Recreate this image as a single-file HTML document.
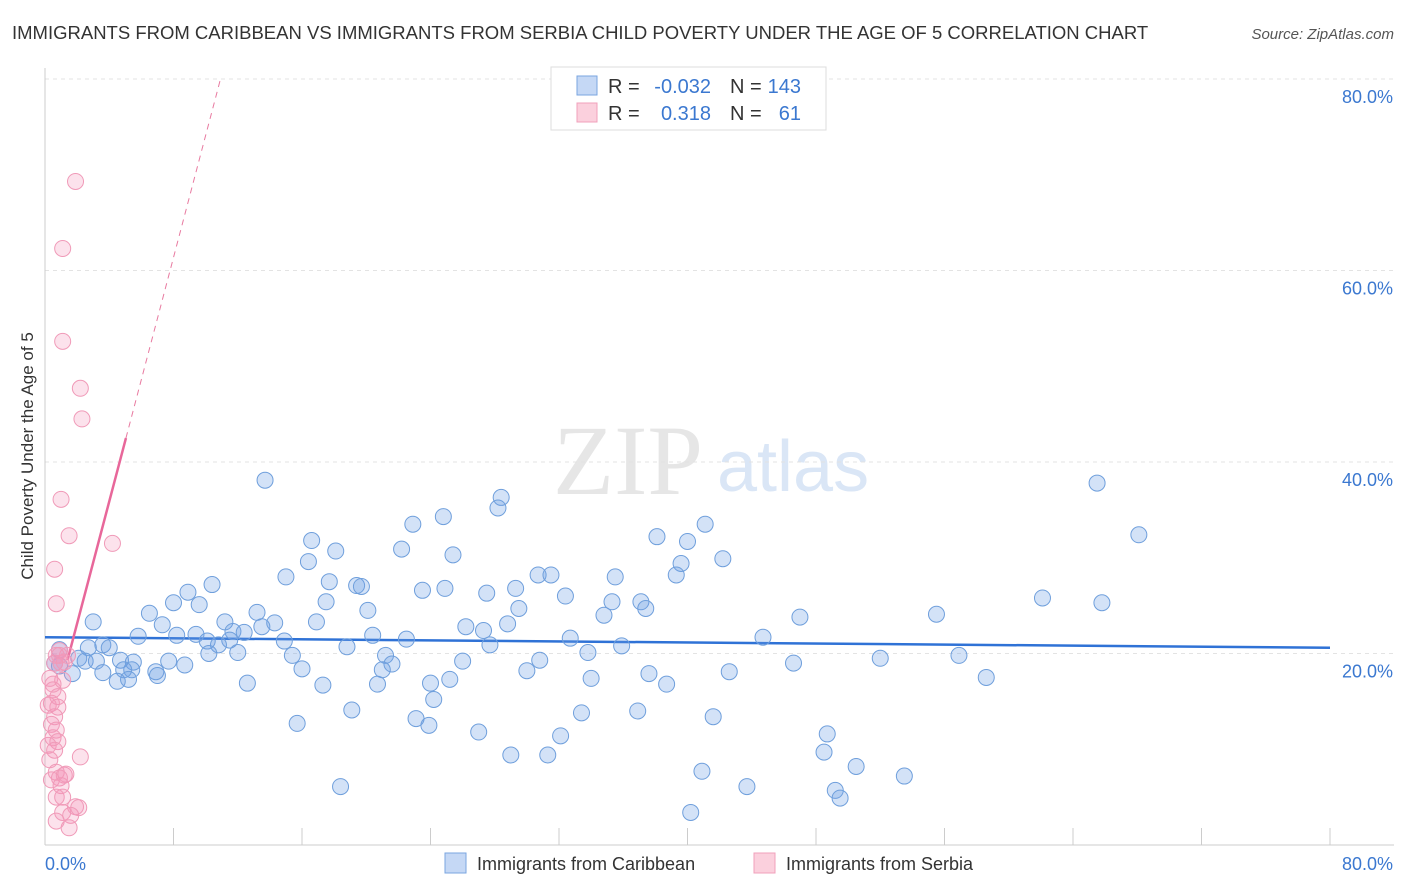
<!DOCTYPE html>
<html><head><meta charset="utf-8">
<style>
body{margin:0;background:#fff;font-family:"Liberation Sans",sans-serif;}
svg{display:block}
</style></head>
<body>
<svg id="chart" width="1406" height="892" xmlns="http://www.w3.org/2000/svg" font-family="Liberation Sans, sans-serif">
<text x="12" y="39" font-size="18.5" fill="#333">IMMIGRANTS FROM CARIBBEAN VS IMMIGRANTS FROM SERBIA CHILD POVERTY UNDER THE AGE OF 5 CORRELATION CHART</text>
<text x="1394" y="39" font-size="15" fill="#555" font-style="italic" text-anchor="end">Source: ZipAtlas.com</text>
<text transform="translate(33,456) rotate(-90)" font-size="17" fill="#333" text-anchor="middle">Child Poverty Under the Age of 5</text>
<g>
<text x="553" y="494" font-size="100" font-family="Liberation Serif, serif" fill="#e6e6e6">ZIP</text>
<text x="717" y="491" font-size="72" fill="#dae6f6">atlas</text>
</g>
<g id="grid"></g>
<g id="trends"></g>
<g id="points"></g>
<g>
<rect x="551" y="67" width="275" height="63" fill="#fff" stroke="#ddd"/>
<rect x="577" y="76" width="20" height="19" fill="#c5d8f5" stroke="#7aa6e0"/>
<rect x="577" y="103" width="20" height="19" fill="#fbd0dd" stroke="#f0a0bb"/>
<text x="608" y="93" font-size="20" fill="#333">R =</text>
<text x="711" y="93" font-size="20" fill="#3b78d0" text-anchor="end">-0.032</text>
<text x="730" y="93" font-size="20" fill="#333">N =</text>
<text x="801" y="93" font-size="20" fill="#3b78d0" text-anchor="end">143</text>
<text x="608" y="120" font-size="20" fill="#333">R =</text>
<text x="711" y="120" font-size="20" fill="#3b78d0" text-anchor="end">0.318</text>
<text x="730" y="120" font-size="20" fill="#333">N =</text>
<text x="801" y="120" font-size="20" fill="#3b78d0" text-anchor="end">61</text>
</g>
<g>
<rect x="445" y="853" width="21" height="20" fill="#c5d8f5" stroke="#7aa6e0"/>
<text x="477" y="870" font-size="18" fill="#333">Immigrants from Caribbean</text>
<rect x="754" y="853" width="21" height="20" fill="#fbd0dd" stroke="#f0a0bb"/>
<text x="786" y="870" font-size="18" fill="#333">Immigrants from Serbia</text>
</g>
</svg>
<script>
const yTicks=[20,40,60,80];
const yTickLabels=["20.0%","40.0%","60.0%","80.0%"];
const xTicks=[0,8,16,24,32,40,48,56,64,72,80];
const xEndLabels=["0.0%","80.0%"];
const caribX=[13.7,65.5,28.4,28.2,68.1,22.9,24.8,41.1,16.6,38.1,40.0,22.2,25.4,18.1,16.4,42.2,39.6,15.0,10.4,17.7,19.4,19.7,30.7,31.5,35.5,39.3,8.9,24.9,23.5,27.5,29.3,32.4,62.1,65.8,8.0,9.6,17.5,35.3,37.1,37.4,6.5,20.1,29.5,34.8,55.5,47.0,3.0,13.2,11.2,7.3,16.9,14.3,11.7,12.4,13.5,5.8,8.2,9.4,20.4,22.5,32.7,26.2,27.3,28.8,44.7,14.9,11.5,10.1,10.8,18.8,27.7,35.9,3.6,2.7,4.0,0.9,2.1,2.5,3.2,4.7,5.5,10.2,12.0,15.4,21.2,33.8,30.8,26.0,21.6,5.4,4.9,6.9,7.7,8.7,0.9,1.7,3.6,4.5,5.2,7.0,21.0,16.0,30.0,37.6,42.6,46.6,52.0,56.9,58.6,12.6,17.3,20.7,24.0,25.2,34.0,38.7,24.2,19.1,23.1,23.9,15.7,33.4,36.9,41.6,48.7,27.0,32.1,48.5,29.0,31.3,50.5,40.9,53.5,18.4,43.7,49.2,49.5,40.2,0.6];
const caribY=[38.1,37.8,36.3,35.2,32.4,33.5,34.3,33.5,31.8,32.2,31.7,30.9,30.3,30.7,29.6,29.9,29.4,28.0,27.2,27.5,27.1,27.0,28.2,28.2,28.0,28.2,26.4,26.8,26.6,26.3,26.8,26.0,25.8,25.3,25.3,25.1,25.4,25.4,25.4,24.7,24.2,24.5,24.7,24.0,24.1,23.8,23.3,24.3,23.3,23.0,23.3,23.2,22.3,22.2,22.8,21.8,21.9,22.0,21.9,21.5,21.6,22.8,22.4,23.1,21.7,21.3,21.4,21.3,20.9,20.7,20.9,20.8,20.9,20.6,20.6,20.4,19.5,19.2,19.2,19.3,19.1,20.0,20.1,19.8,19.8,20.1,19.3,19.2,18.9,18.3,18.3,18.1,19.2,18.8,18.7,17.9,18.0,17.1,17.3,17.7,18.3,18.4,18.2,17.9,18.1,19.0,19.5,19.8,17.5,16.9,16.7,16.8,16.9,17.3,17.4,16.8,15.2,14.1,13.2,12.5,12.7,13.8,14.0,13.4,11.6,11.8,11.4,9.7,9.4,9.4,8.2,7.7,7.2,6.1,6.1,5.7,4.9,3.4,19.0];
const serbX=[1.9,1.1,1.1,2.2,2.3,1.0,1.5,4.2,0.6,0.7,0.9,0.6,1.2,0.3,0.5,0.8,0.4,0.2,0.8,0.6,0.4,0.7,0.5,0.8,0.2,0.6,0.3,2.2,0.7,1.2,0.9,0.4,1.0,0.7,1.1,1.9,2.1,1.1,1.6,0.7,1.5,1.0,1.4,0.7,0.5,1.1,0.9,1.3];
const serbY=[69.3,62.3,52.6,47.7,44.5,36.1,32.3,31.5,28.8,25.2,20.3,19.0,19.1,17.4,16.2,15.5,14.8,14.6,14.4,13.4,12.6,12.0,11.2,10.8,10.4,9.9,8.9,9.2,7.6,7.3,7.0,6.8,6.2,5.0,5.0,4.0,3.9,3.4,3.1,2.5,1.8,19.0,19.8,19.8,16.8,17.2,19.8,7.4];
const caribTrend=[21.7,20.6];
const serbTrend=[10.4,6.37,5.04];

const NS="http://www.w3.org/2000/svg";
const X=v=>45+v*(1285/80);
const Y=v=>845-v*(191.5/20);
function mk(tag,attrs,parent){const e=document.createElementNS(NS,tag);for(const k in attrs)e.setAttribute(k,attrs[k]);parent.appendChild(e);return e;}
const grid=document.getElementById('grid');
yTicks.forEach((t,i)=>{
  const l=mk('line',{x1:45,x2:1394,y1:Y(t),y2:Y(t),stroke:'#e3e3e3','stroke-dasharray':'4,4'},grid);
  
  
  const tx=mk('text',{x:1393,y:Y(t)+24,'font-size':18,fill:'#3b78d0','text-anchor':'end'},grid);
  tx.textContent=yTickLabels[i];
  
  
});
const ax=mk('line',{x1:45,x2:45,y1:68,y2:845,stroke:'#ccc'},grid);


const bx=mk('line',{x1:45,x2:1394,y1:845,y2:845,stroke:'#ccc'},grid);


xTicks.forEach(t=>{
  const l=mk('line',{x1:X(t),x2:X(t),y1:828,y2:845,stroke:'#ccc'},grid);
  
  
});
[[0,'start',45],[80,'end',1393]].forEach((d,i)=>{
  const tx=mk('text',{x:d[2],y:870,'font-size':18,fill:'#3b78d0','text-anchor':d[1]},grid);
  tx.textContent=xEndLabels[i];
  
  
});
const pts=document.getElementById('points');
caribX.forEach((x,i)=>{
  const c=mk('circle',{cx:X(x),cy:Y(caribY[i]),r:8,fill:'rgba(110,160,230,0.3)',stroke:'#6f9fdc','stroke-width':1},pts);
  
  
});
serbX.forEach((x,i)=>{
  const c=mk('circle',{cx:X(x),cy:Y(serbY[i]),r:8,fill:'rgba(245,150,185,0.28)',stroke:'#f09ab8','stroke-width':1},pts);
  
  
});
const tr=document.getElementById('trends');
const t1=mk('line',{x1:X(0),y1:Y(caribTrend[0]),x2:X(80),y2:Y(caribTrend[1]),stroke:'#2f72d6','stroke-width':2.5},tr);


const sy=x=>serbTrend[0]+serbTrend[1]*x;
const xTop=(80-serbTrend[0])/serbTrend[1];
const t2=mk('line',{x1:X(serbTrend[2]),y1:Y(sy(serbTrend[2])),x2:X(xTop),y2:Y(80),stroke:'#e87aa0','stroke-width':1,'stroke-dasharray':'6,5'},tr);


const x0=1.4;
const t3=mk('line',{x1:X(x0),y1:Y(sy(x0)),x2:X(serbTrend[2]),y2:Y(sy(serbTrend[2])),stroke:'#e8679a','stroke-width':2.5},tr);


</script>
</body></html>
